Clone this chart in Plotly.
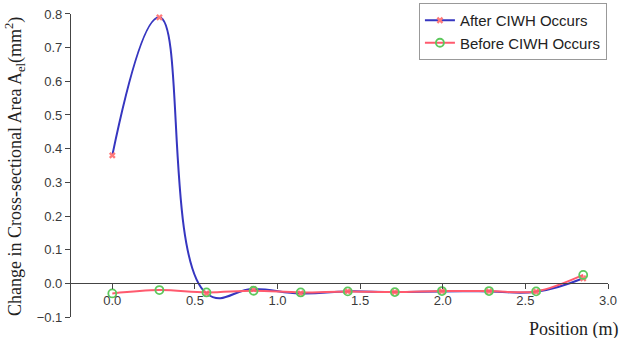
import plotly.graph_objects as go

positions = [0.0, 0.285, 0.57, 0.855, 1.14, 1.425, 1.71, 1.995, 2.28, 2.565, 2.85]
after_ciwh = [0.38, 0.79, -0.03, -0.017, -0.03, -0.024, -0.026, -0.024, -0.024, -0.025, 0.015]
before_ciwh = [-0.03, -0.02, -0.027, -0.022, -0.027, -0.024, -0.026, -0.023, -0.023, -0.024, 0.025]
x_ticks = [0.0, 0.5, 1.0, 1.5, 2.0, 2.5, 3.0]
y_range = [-0.1, 0.8]
x_range = [-0.25, 3.0]

fig = go.Figure()
fig.add_trace(go.Scatter(
    x=positions, y=after_ciwh, name="After CIWH Occurs",
    mode="lines+markers",
    line=dict(color="#3636c0", width=2, shape="spline", smoothing=1.3),
    marker=dict(symbol="x", size=6, color="#ff7a7a", line=dict(width=0)),
    cliponaxis=False,
))
fig.add_trace(go.Scatter(
    x=positions, y=before_ciwh, name="Before CIWH Occurs",
    mode="lines+markers",
    line=dict(color="#ff5a6e", width=2, shape="spline", smoothing=1.0),
    marker=dict(symbol="circle-open", size=8, color="#5cc85c", line=dict(width=1.8)),
    cliponaxis=False,
))

y_dom_top = 0.965
zero_pos = y_dom_top * (0 - y_range[0]) / (y_range[1] - y_range[0])

fig.update_layout(
    width=620, height=338,
    margin=dict(l=71, r=12, t=3, b=21),
    paper_bgcolor="white", plot_bgcolor="white",
    font=dict(family="Liberation Sans, Arial, sans-serif", color="#333333", size=13),
    showlegend=True,
    legend=dict(
        x=0.998, xanchor="right", y=1.0, yanchor="top",
        bordercolor="#999999", borderwidth=1, bgcolor="white",
        font=dict(size=15, color="#222222", family="Liberation Sans, Arial, sans-serif"),
        tracegroupgap=0, itemwidth=30,
    ),
    xaxis=dict(
        range=x_range, tickvals=x_ticks, tickformat=".1f",
        showline=True, linecolor="#444444", linewidth=1.2,
        ticks="outside", ticklen=5, tickcolor="#444444",
        showgrid=False, zeroline=False, automargin=False,
        anchor="free", position=zero_pos,
        tickfont=dict(size=13, color="#3a3a3a"),
    ),
    yaxis=dict(
        range=y_range, dtick=0.1, tick0=0, tickformat=".1f",
        domain=[0, y_dom_top],
        showline=True, linecolor="#444444", linewidth=1.2,
        ticks="outside", ticklen=5, tickcolor="#444444",
        showgrid=False, zeroline=False, automargin=False,
        tickfont=dict(size=13, color="#3a3a3a"),
    ),
    annotations=[
        dict(text="Position (m)", xref="paper", yref="paper",
             x=1.024, y=0.0, xanchor="right", yanchor="top", showarrow=False,
             font=dict(family="Liberation Serif, Times New Roman, serif", size=18, color="#222222")),
        dict(text="Change in Cross-sectional Area A<sub>el</sub>(mm<sup>2</sup>)",
             xref="paper", yref="paper", x=-0.104, y=0.478,
             xanchor="center", yanchor="middle", textangle=-90, showarrow=False,
             font=dict(family="Liberation Serif, Times New Roman, serif", size=18, color="#222222")),
    ],
)

fig.write_html("out.html", config={"displayModeBar": False},
               post_script="document.body.style.margin='0';document.body.style.padding='0';")
